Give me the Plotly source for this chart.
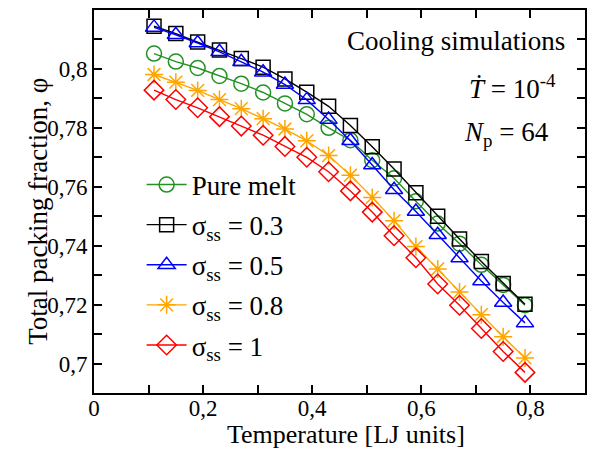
import plotly.graph_objects as go

temperature = [0.11, 0.15, 0.19, 0.23, 0.27, 0.31, 0.35, 0.39, 0.43,
               0.47, 0.51, 0.55, 0.59, 0.63, 0.67, 0.71, 0.75, 0.79]

pure_melt = [0.8052, 0.8025, 0.8003, 0.7976, 0.7950, 0.7920, 0.7883, 0.7846, 0.7800,
             0.7758, 0.7690, 0.7629, 0.7551, 0.7475, 0.7407, 0.7335, 0.7267, 0.7198]
sigma_03 = [0.8145, 0.8120, 0.8091, 0.8064, 0.8035, 0.8006, 0.7966, 0.7921, 0.7873,
            0.7808, 0.7736, 0.7660, 0.7580, 0.7500, 0.7423, 0.7346, 0.7272, 0.7201]
sigma_05 = [0.8141, 0.8116, 0.8088, 0.8058, 0.8024, 0.7989, 0.7947, 0.7895, 0.7828,
            0.7756, 0.7674, 0.7590, 0.7516, 0.7437, 0.7358, 0.7280, 0.7207, 0.7138]
sigma_08 = [0.7981, 0.7955, 0.7927, 0.7896, 0.7865, 0.7831, 0.7796, 0.7756, 0.7706,
            0.7639, 0.7564, 0.7485, 0.7397, 0.7321, 0.7243, 0.7166, 0.7091, 0.7019]
sigma_1 = [0.7928, 0.7896, 0.7868, 0.7838, 0.7806, 0.7775, 0.7737, 0.7700, 0.7651,
           0.7586, 0.7514, 0.7434, 0.7359, 0.7270, 0.7198, 0.7119, 0.7041, 0.6970]

series_names = ["Pure melt", "σ<sub>ss</sub> = 0.3", "σ<sub>ss</sub> = 0.5",
                "σ<sub>ss</sub> = 0.8", "σ<sub>ss</sub> = 1"]

x_tick_vals = [0, 0.2, 0.4, 0.6, 0.8]
x_tick_text = ["0", "0,2", "0,4", "0,6", "0,8"]
y_tick_vals = [0.70, 0.72, 0.74, 0.76, 0.78, 0.80]
y_tick_text = ["0,7", "0,72", "0,74", "0,76", "0,78", "0,8"]

FONT = "Liberation Serif"
TICK_SIZE = 23
TEXT_SIZE = 27
styles = [
    ("rgb(34,145,34)", "circle-open", 15),
    ("black", "square-open", 14),
    ("rgb(0,0,255)", "triangle-up-open", 15),
    ("rgb(255,165,0)", "asterisk-open", 15),
    ("rgb(255,0,0)", "diamond-open", 15),
]
data = [pure_melt, sigma_03, sigma_05, sigma_08, sigma_1]

fig = go.Figure()
for i, (name, ys, (col, sym, sz)) in enumerate(zip(series_names, data, styles)):
    fig.add_trace(go.Scatter(
        x=temperature, y=ys, name=name, mode="lines+markers",
        line=dict(color=col, width=1.4),
        marker=dict(symbol=sym, size=sz, color=col, line=dict(color=col, width=1.5)),
        legendgroup=f"g{i}",
    ))

axis_common = dict(
    showline=True, linecolor="black", linewidth=2, mirror="ticks",
    ticks="inside", ticklen=8, tickwidth=1.5, tickcolor="black",
    showgrid=False, zeroline=False, automargin=False,
    tickfont=dict(family=FONT, size=TICK_SIZE, color="black"),
)

fig.update_layout(
    width=597, height=449,
    margin=dict(l=94, r=12, t=10, b=56, autoexpand=False),
    paper_bgcolor="white", plot_bgcolor="white",
    font=dict(family=FONT, size=TEXT_SIZE, color="black"),
    xaxis=dict(range=[0, 0.9], tickvals=x_tick_vals, ticktext=x_tick_text,
               ticklabelstandoff=-7,
               minor=dict(ticks="inside", ticklen=8, dtick=0.1, tick0=0, tickcolor="black", tickwidth=1.5),
               **axis_common),
    yaxis=dict(range=[0.69, 0.82], tickvals=y_tick_vals, ticktext=y_tick_text,
               minor=dict(ticks="inside", ticklen=8, dtick=0.01, tick0=0.69, tickcolor="black", tickwidth=1.5),
               **axis_common),
    showlegend=True,
    legend=dict(x=0.097, y=0.607, xanchor="left", yanchor="top",
                bgcolor="rgba(0,0,0,0)", borderwidth=0,
                font=dict(family=FONT, size=TEXT_SIZE),
                tracegroupgap=2, itemwidth=40),
    annotations=[
        dict(text="Temperature [LJ units]", x=0.513, y=0, xref="paper", yref="paper",
             xanchor="center", yanchor="middle", yshift=-41, showarrow=False,
             font=dict(family=FONT, size=26)),
        dict(text="Total packing fraction, φ", x=0, y=0.473, xref="paper", yref="paper",
             xanchor="center", yanchor="middle", xshift=-56, textangle=-90, showarrow=False,
             font=dict(family=FONT, size=TEXT_SIZE)),
        dict(text="Cooling simulations", x=0.963, y=0.919, xref="paper", yref="paper",
             xanchor="right", yanchor="middle", showarrow=False, font=dict(family=FONT, size=TEXT_SIZE)),
        dict(text="<i>T\u0307</i> = 10<sup>-4</sup>", x=0.945, y=0.80, xref="paper", yref="paper",
             xanchor="right", yanchor="middle", showarrow=False, font=dict(family=FONT, size=TEXT_SIZE)),
        dict(text="<i>N</i><sub>p</sub> = 64", x=0.93, y=0.675, xref="paper", yref="paper",
             xanchor="right", yanchor="middle", showarrow=False, font=dict(family=FONT, size=TEXT_SIZE)),
    ],
)

fig.write_html("out.html", config={"displayModeBar": False},
               post_script="document.body.style.margin='0px';")
